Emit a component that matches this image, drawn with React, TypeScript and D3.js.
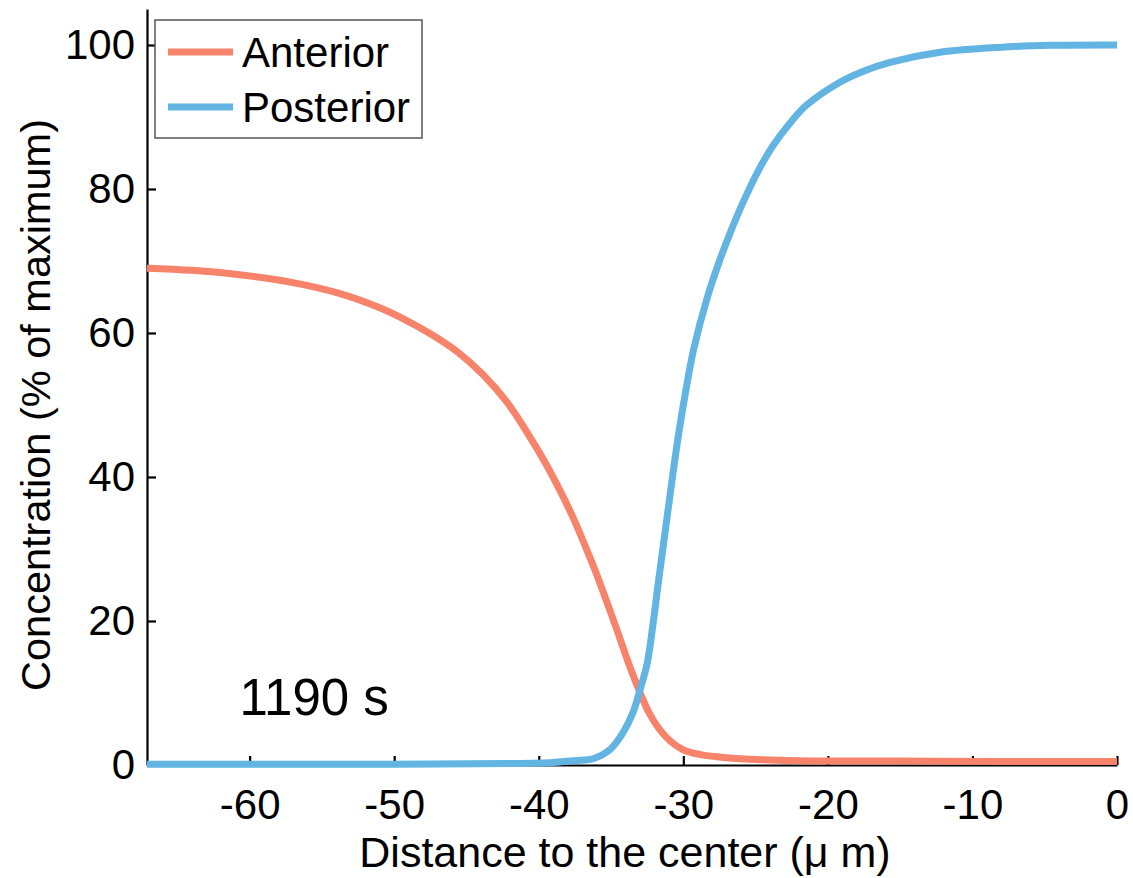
import React, { useEffect, useRef } from 'react';
import * as d3 from 'd3';

// values
const anteriorX = [-67.1, -64, -60.7, -57, -53.8, -51, -49.2, -47.5, -45.7, -43.9, -42.2, -40.5, -39.5, -38.5, -37.5, -36.5, -36.0, -35.3, -34.6, -33.5, -32.3, -31.2, -30, -28.8, -27.7, -25.4, -22, -15, -8, 0];
const anteriorY = [69.0, 68.7, 68.1, 67, 65.5, 63.5, 61.8, 59.9, 57.5, 54.3, 50.4, 45.2, 41.8, 38.0, 33.8, 29.0, 26.5, 22.7, 18.8, 12.6, 7.0, 3.9, 2.1, 1.45, 1.15, 0.8, 0.6, 0.55, 0.5, 0.5];

const posteriorX = [-67.1, -50, -42, -39, -37.5, -36.2, -35.1, -34.2, -33.5, -33.0, -32.5, -32.1, -31.75, -31.25, -30.75, -30.3, -29.8, -29.3, -28.3, -27.5, -26.8, -25.9, -24.8, -23.8, -22.6, -21.5, -19.2, -17.5, -15.7, -12.25, -8, -4.6, 0];
const posteriorY = [0.1, 0.1, 0.2, 0.35, 0.6, 0.9, 2.1, 4.4, 7.2, 10.4, 14.1, 19.5, 25, 32.5, 40, 46.3, 52.3, 57.6, 65.2, 70.0, 73.7, 78.0, 82.6, 86.0, 89.2, 91.6, 94.8, 96.4, 97.6, 99.0, 99.7, 99.95, 100];

const xTicks = [-60, -50, -40, -30, -20, -10, 0];
const yTicks = [0, 20, 40, 60, 80, 100];
const seriesNames = ['Anterior', 'Posterior'];
const seriesColors = ['#f6836a', '#62b4e2'];
const timeLabel = '1190 s';

const App = () => {
  const svgRef = useRef(null);
  const width = 1133;
  const height = 878;
  const margin = { top: 9, right: 16, bottom: 113, left: 147 };

  useEffect(() => {
    const svg = d3.select(svgRef.current);
    svg.selectAll('*').remove();

    const font = '"Liberation Sans", Arial, Helvetica, sans-serif';
    const x = d3.scaleLinear().domain([-67.1, 0]).range([margin.left, width - margin.right]);
    const y = d3.scaleLinear().domain([0, 105]).range([height - margin.bottom, margin.top]);

    const series = [
      anteriorX.map((v, i) => [v, anteriorY[i]]),
      posteriorX.map((v, i) => [v, posteriorY[i]]),
    ];

    // centripetal catmull-rom keeps the sampled curves smooth
    const line = d3.line()
      .x(d => x(d[0]))
      .y(d => y(d[1]))
      .curve(d3.curveCatmullRom.alpha(0.5));

    // axes: only left and bottom, ticks pointing inward
    const gx = svg.append('g')
      .attr('transform', `translate(0,${y(0)})`)
      .call(d3.axisBottom(x).tickValues(xTicks).tickSize(-9).tickPadding(18).tickSizeOuter(0).tickFormat(d3.format('d')));
    const gy = svg.append('g')
      .attr('transform', `translate(${x(-67.1)},0)`)
      .call(d3.axisLeft(y).tickValues(yTicks).tickSize(-9).tickPadding(12).tickSizeOuter(0).tickFormat(d3.format('d')));

    [gx, gy].forEach(g => {
      g.select('.domain').attr('stroke', '#000').attr('stroke-width', 2.2);
      g.selectAll('.tick line').attr('stroke', '#000').attr('stroke-width', 2.2);
      g.selectAll('.tick text')
        .attr('fill', '#000')
        .style('font-family', font)
        .style('font-size', '42px');
    });
    gx.selectAll('.tick text').attr('dy', '0.85em');
    gx.selectAll('.tick text').text(d => (d < 0 ? '-' + Math.abs(d) : d));

    svg.append('g')
      .attr('fill', 'none')
      .attr('stroke-width', 7)
      .attr('stroke-linecap', 'butt')
      .attr('stroke-linejoin', 'round')
      .selectAll('path')
      .data(series)
      .join('path')
      .attr('stroke', (d, i) => seriesColors[i])
      .attr('d', line);

    // annotation
    svg.append('text')
      .attr('x', x(-60.7))
      .attr('y', y(7.0))
      .style('font-family', font)
      .style('font-size', '51px')
      .text(timeLabel);

    // axis titles
    svg.append('text')
      .attr('x', (x(-67.1) + x(0)) / 2 - 7)
      .attr('y', 867)
      .attr('text-anchor', 'middle')
      .style('font-family', font)
      .style('font-size', '43px')
      .text('Distance to the center (μ m)');

    svg.append('text')
      .attr('transform', `translate(50,${(y(0) + y(105)) / 2 + 18}) rotate(-90)`)
      .attr('text-anchor', 'middle')
      .style('font-family', font)
      .style('font-size', '41.5px')
      .text('Concentration (% of maximum)');

    // legend
    const legend = svg.append('g').attr('transform', 'translate(155,20)');
    legend.append('rect')
      .attr('width', 267)
      .attr('height', 118)
      .attr('fill', '#fff')
      .attr('stroke', '#555')
      .attr('stroke-width', 1.5);
    seriesNames.forEach((name, i) => {
      const cy = 32 + i * 55;
      legend.append('line')
        .attr('x1', 13).attr('x2', 78)
        .attr('y1', cy).attr('y2', cy)
        .attr('stroke', seriesColors[i])
        .attr('stroke-width', 7);
      legend.append('text')
        .attr('x', 87)
        .attr('y', cy)
        .attr('dy', '0.36em')
        .style('font-family', font)
        .style('font-size', '42px')
        .text(name);
    });
  }, []);

  return (
    <div style={{ position: 'absolute', left: 0, top: 0, width: width, height: height, background: '#fff' }}>
      <svg ref={svgRef} width={width} height={height} style={{ display: 'block' }}></svg>
    </div>
  );
};

export default App;
